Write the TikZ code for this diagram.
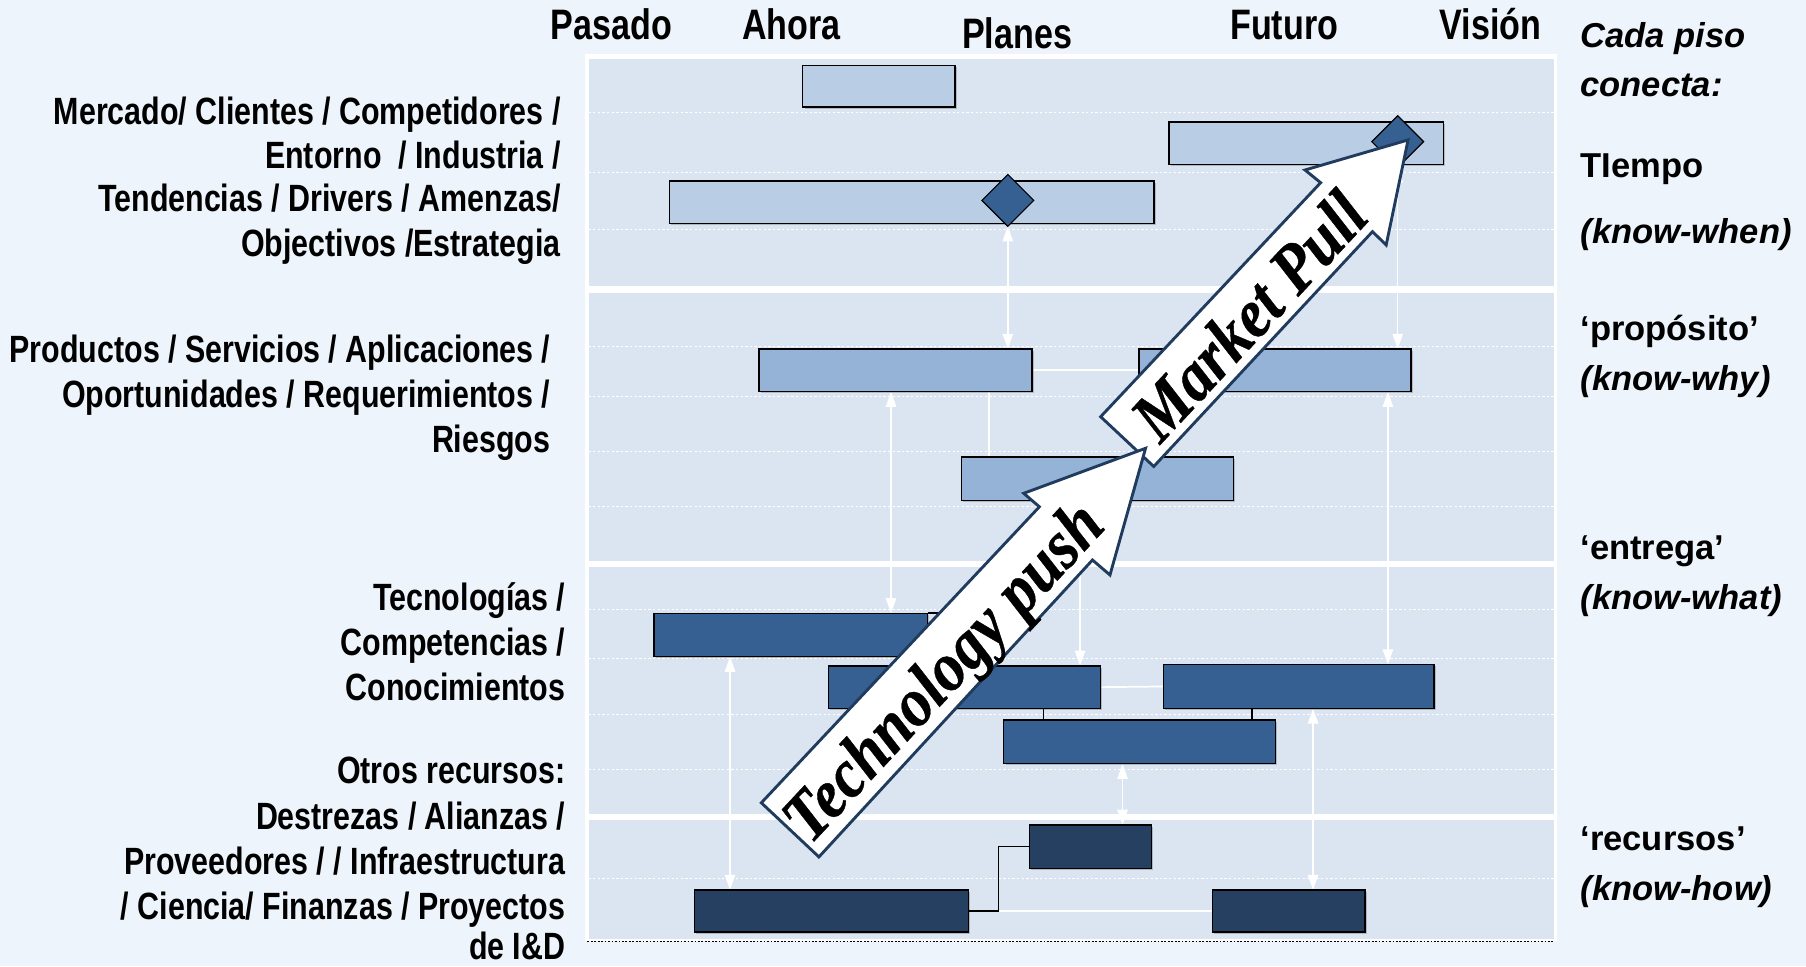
\documentclass[tikz,border=0pt]{standalone}
\usepackage{fontspec}
\usetikzlibrary{arrows.meta,shapes.geometric,shadows}
\newfontfamily\nsans[FakeStretch=0.8]{Liberation Sans}
\newfontfamily\asans{Liberation Sans}
\newfontfamily\tserif[FakeStretch=0.9,FakeBold=0.6]{Liberation Serif}
\definecolor{bgc}{HTML}{EEF4FB}
\definecolor{panelc}{HTML}{DBE5F1}
\definecolor{cA}{HTML}{B9CDE5}
\definecolor{cB}{HTML}{95B3D7}
\definecolor{cC}{HTML}{376092}
\definecolor{cD}{HTML}{254061}
\definecolor{arrc}{HTML}{1F3B5E}
\tikzset{
  box/.style={draw=black, line width=1.2pt, inner sep=0pt, outer sep=0pt,
    drop shadow={shadow xshift=1.5pt, shadow yshift=-1.5pt, fill=black!50, opacity=0.45}},
  bA/.style={box, fill=cA},
  bB/.style={box, fill=cB},
  bC/.style={box, fill=cC},
  bD/.style={box, fill=cD},
  dia/.style={diamond, draw=black, line width=1pt, fill=cC, inner sep=0pt, outer sep=0pt,
    minimum width=45pt, minimum height=45pt},
  wconn/.style={draw=white, line width=1.3pt,
    {Triangle[width=9pt,length=13pt]}-{Triangle[width=9pt,length=13pt]}},
  wline/.style={draw=white, line width=1.5pt},
  bline/.style={draw=black, line width=1.3pt},
  grid/.style={draw=white, line width=0.9pt, dash pattern=on 2pt off 2pt},
  lbl/.style={anchor=base east, inner sep=0pt, font=\nsans\bfseries\fontsize{33}{39}\selectfont},
  hdr/.style={anchor=base, inner sep=0pt, font=\nsans\bfseries\fontsize{37}{44}\selectfont},
  rt/.style={anchor=base west, inner sep=0pt, font=\asans\bfseries\fontsize{30}{36}\selectfont},
  rti/.style={anchor=base west, inner sep=0pt, font=\asans\bfseries\itshape\fontsize{30}{36}\selectfont},
  bigarrow/.style={fill=white, draw=arrc, line width=2.5pt, line join=miter},
  bigtext/.style={rotate=47, inner sep=0pt, font=\tserif\bfseries\itshape\fontsize{60}{64}\selectfont}
}
\begin{document}
\begin{tikzpicture}[x=1pt,y=-1pt]
\useasboundingbox (0,0) rectangle (1568,839);
\fill[bgc] (0,0) rectangle (1568,839);
% panel
\fill[white] (508,47) rectangle (1352,817);
\fill[panelc] (511,51) rectangle (1349,248);
\fill[panelc] (511,254) rectangle (1349,487);
\fill[panelc] (511,492) rectangle (1349,707);
\fill[panelc] (511,712) rectangle (1349,815);
\draw[black, line width=0.8pt, dash pattern=on 1.5pt off 1.5pt] (510,817.6) -- (1350,817.6);
% grid lines
\foreach \yy in {98,150,199,300.5,344,392,440,529,572,620,668,763}
  \draw[grid] (511,\yy) -- (1349,\yy);
% x-positions
\coordinate (xa) at (773.6,0);
\coordinate (xb) at (1205,0);
\coordinate (xc) at (937.7,0);
\coordinate (xd) at (633.8,0);
\coordinate (xe) at (1140,0);
\coordinate (xf) at (974.6,0);
\coordinate (xg) at (906,0);
\coordinate (xh) at (1087,0);
\coordinate (xi) at (858.7,0);
\coordinate (xj) at (867,0);
\coordinate (xk) at (815,0);
% box positions (invisible placeholders for connectors first)
\path (763,75) node[minimum width=132pt, minimum height=36pt, inner sep=0pt] (A) {};
\path (1134,124.5) node[minimum width=238pt, minimum height=37pt, inner sep=0pt] (V) {};
\path (791.5,175.5) node[minimum width=421pt, minimum height=37pt, inner sep=0pt] (L) {};
\path (777.5,321.5) node[minimum width=237pt, minimum height=37pt, inner sep=0pt] (P1) {};
\path (1107,321.5) node[minimum width=236pt, minimum height=37pt, inner sep=0pt] (P2) {};
\path (953,415.6) node[minimum width=236pt, minimum height=38pt, inner sep=0pt] (P3) {};
\path (686.5,551.3) node[minimum width=237.7pt, minimum height=37.5pt, inner sep=0pt] (T1) {};
\path (837.5,596.6) node[minimum width=236pt, minimum height=37pt, inner sep=0pt] (T2) {};
\path (1127.5,596) node[minimum width=235pt, minimum height=38pt, inner sep=0pt] (T3) {};
\path (989.5,644) node[minimum width=236pt, minimum height=38pt, inner sep=0pt] (T4) {};
\path (946.8,735) node[minimum width=105.5pt, minimum height=37.6pt, inner sep=0pt] (R1) {};
\path (722,791) node[minimum width=238pt, minimum height=36.5pt, inner sep=0pt] (R2) {};
\path (1118.9,791) node[minimum width=132.3pt, minimum height=36.5pt, inner sep=0pt] (R3) {};
\path (875,174) node[dia, draw=none, fill=none] (dL) {};
\path (1213.5,123) node[dia, draw=none, fill=none] (dV) {};
% white connectors
\draw[wconn] (dL.south) -- (dL.south |- P1.north);
\draw[wconn] (dV.south) -- (dV.south |- P2.north);
\draw[wline] (P1.east) -- (P2.west);
\draw[wline] (xi |- P1.south) -- (xi |- P3.north);
\draw[wconn] (xa |- P1.south) -- (xa |- T1.north);
\draw[wconn] (xb |- P2.south) -- (xb |- T3.north);
\draw[wconn] (xc |- P3.south) -- (xc |- T2.north);
\draw[wconn] (xd |- T1.south) -- (xd |- R2.north);
\draw[wconn] (xe |- T3.south) -- (xe |- R3.north);
\draw[wconn] (xf |- T4.south) -- (xf |- R1.north);
\draw[wline] (T2.east) -- (T3.west);
\draw[wline] (xj |- R2.east) -- (R3.west);
% visible boxes
\node[bA, minimum width=132pt, minimum height=36pt] at (A) {};
\node[bA, minimum width=238pt, minimum height=37pt] at (V) {};
\node[bA, minimum width=421pt, minimum height=37pt] at (L) {};
\node[bB, minimum width=237pt, minimum height=37pt] at (P1) {};
\node[bB, minimum width=236pt, minimum height=37pt] at (P2) {};
\node[bB, minimum width=236pt, minimum height=38pt] at (P3) {};
\node[bC, minimum width=237.7pt, minimum height=37.5pt] at (T1) {};
\node[bC, minimum width=236pt, minimum height=37pt] at (T2) {};
\node[bC, minimum width=235pt, minimum height=38pt] at (T3) {};
\node[bC, minimum width=236pt, minimum height=38pt] at (T4) {};
\node[bD, minimum width=105.5pt, minimum height=37.6pt] at (R1) {};
\node[bD, minimum width=238pt, minimum height=36.5pt] at (R2) {};
\node[bD, minimum width=132.3pt, minimum height=36.5pt] at (R3) {};
\node[dia] at (dL) {};
\node[dia] at (dV) {};
% black connectors
\draw[bline] (xg |- T2.south) -- (xg |- T4.north);
\draw[bline] (xh |- T3.south) -- (xh |- T4.north);
\draw[bline] (T1.north east) -| (xk |- T2.north);
\draw[bline] (R2.east) -| (xj |- R1.west) -- (R1.west);
% big arrows
\draw[bigarrow] (955.6,361.8) -- (1146.6,158.6) -- (1133,147.6) -- (1222.5,121.5)
  -- (1203.5,212.7) -- (1191.6,201.1) -- (1001.7,405) -- cycle;
\node[bigtext] (mp) at (1084,274) {Market Pull};
\draw[bigarrow] (661,697) -- (902.4,440) -- (888.8,428.3) -- (994.6,389.2)
  -- (963.7,499.2) -- (948.5,486.2) -- (711,744) -- cycle;
\node[bigtext] (tp) at (822,586) {Technology push};
% headers
\node[hdr] (h1) at (531,34) {Pasado};
\node[hdr] (h2) at (687,34) {Ahora};
\node[hdr] (h3) at (883,42) {Planes};
\node[hdr] (h4) at (1115,34) {Futuro};
\node[hdr] (h5) at (1294,34) {Visión};
% left labels
\node[lbl] (l11) at (487,108) {Mercado/ Clientes / Competidores /};
\node[lbl] (l12) at (487,146) {Entorno \ / Industria /};
\node[lbl] (l13) at (487,184) {Tendencias / Drivers / Amenzas/};
\node[lbl] (l14) at (487,223) {Objectivos /Estrategia};
\node[lbl] (l21) at (478,315) {Productos / Servicios / Aplicaciones /};
\node[lbl] (l22) at (478,354) {Oportunidades / Requerimientos /};
\node[lbl] (l23) at (478,393) {Riesgos};
\node[lbl] (l31) at (491,530) {Tecnologías /};
\node[lbl] (l32) at (491,569) {Competencias /};
\node[lbl] (l33) at (491,608) {Conocimientos};
\node[lbl] (l41) at (491,680) {Otros recursos:};
\node[lbl] (l42) at (491,720) {Destrezas / Alianzas /};
\node[lbl] (l43) at (491,759) {Proveedores / / Infraestructura};
\node[lbl] (l44) at (491,798) {/ Ciencia/ Finanzas / Proyectos};
\node[lbl] (l45) at (491,833) {de I\&D};
% right labels
\node[rti] (r1) at (1372,41) {Cada piso};
\node[rti] (r2) at (1372,84) {conecta:};
\node[rt] (r3) at (1372,154) {TIempo};
\node[rti] (r4) at (1372,211) {(know-when)};
\node[rt] (r5) at (1372,296) {‘propósito’};
\node[rti] (r6) at (1372,339) {(know-why)};
\node[rt] (r7) at (1372,486) {‘entrega’};
\node[rti] (r8) at (1372,529) {(know-what)};
\node[rt] (r9) at (1372,738) {‘recursos’};
\node[rti] (r10) at (1372,782) {(know-how)};
\end{tikzpicture}
\end{document}
